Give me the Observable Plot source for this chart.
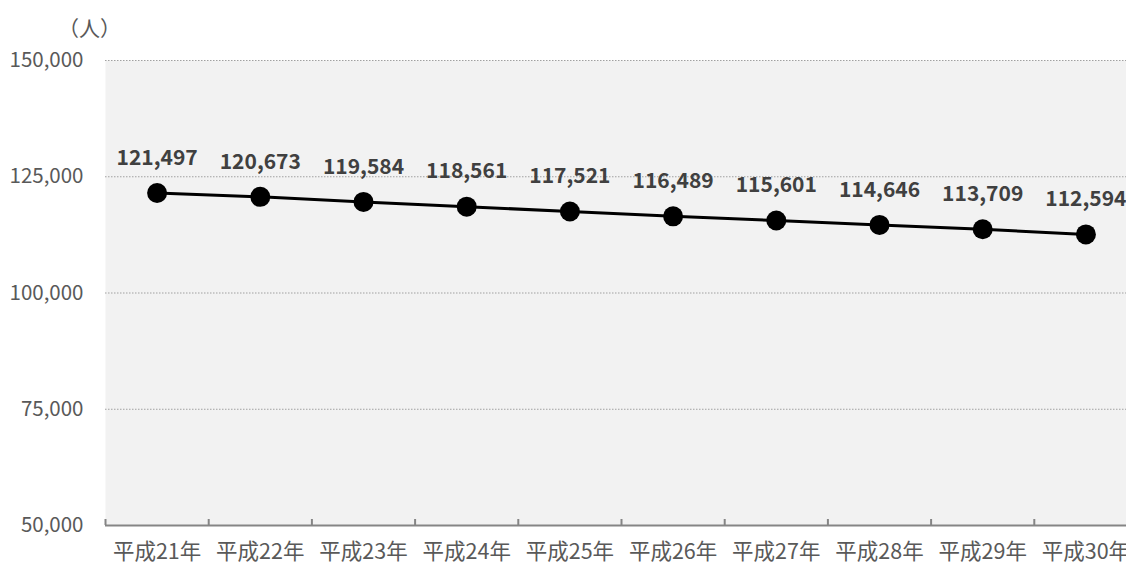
<!DOCTYPE html>
<html>
<head>
<meta charset="utf-8">
<script src="https://cdn.jsdelivr.net/npm/d3@7"></script>
<script src="https://cdn.jsdelivr.net/npm/@observablehq/plot@0.6"></script>
<style>
  html, body { margin: 0; padding: 0; background: #fff; overflow: hidden; width: 1126px; height: 564px; }
  #wrap { position: relative; width: 1126px; height: 564px; overflow: hidden; font-family: "Noto Sans CJK JP", "Noto Sans", sans-serif; }
  #unit { position: absolute; left: 58px; top: 12px; font-size: 21px; color: #595959; }
  #chart { position: absolute; left: 0; top: 0; width: 1140px; }
  #chart svg { max-width: none !important; }
</style>
</head>
<body>
<div id="wrap">
  <div id="chart"></div>
  <div id="unit">（人）</div>
</div>
<script>
const years = ["平成21年","平成22年","平成23年","平成24年","平成25年","平成26年","平成27年","平成28年","平成29年","平成30年"];
const values = [121497, 120673, 119584, 118561, 117521, 116489, 115601, 114646, 113709, 112594];
const yTicks = [50000, 75000, 100000, 125000, 150000];
const gridTicks = [75000, 100000, 125000, 150000];

const data = years.map((y, i) => ({year: y, idx: i + 0.5, value: values[i]}));
const bounds = d3.range(years.length + 1);
const labelPos = years.map((_, i) => i + 0.5);

const fontFamily = '"Noto Sans CJK JP", "Noto Sans", sans-serif';

const chart = Plot.plot({
  width: 1140,
  height: 564,
  marginLeft: 105,
  marginRight: 3,
  marginTop: 60,
  marginBottom: 39,
  style: {fontFamily, background: "transparent", overflow: "visible", maxWidth: "none"},
  x: {type: "linear", domain: [0, years.length]},
  y: {domain: [50000, 150000]},
  marks: [
    Plot.frame({fill: "#f2f2f2", stroke: null}),
    Plot.ruleY(gridTicks, {stroke: "#a0a0a0", strokeWidth: 1, strokeDasharray: "1.5,1.5"}),
    Plot.ruleY([50000], {stroke: "#858585", strokeWidth: 2}),
    Plot.ruleX(bounds, {x: d => d, y1: 50000, y2: 50000, insetTop: -6, stroke: "#858585", strokeWidth: 2}),
    Plot.axisY({ticks: yTicks, tickSize: 0, tickPadding: 22, tickFormat: d3.format(","), fontSize: 20.5, fill: "#595959", label: null}),
    Plot.axisX({ticks: labelPos, tickSize: 0, tickPadding: 18, tickFormat: d => years[Math.floor(d)], fontSize: 21.5, fill: "#595959", label: null}),
    Plot.line(data, {x: "idx", y: "value", stroke: "#000", strokeWidth: 3}),
    Plot.dot(data, {x: "idx", y: "value", r: 10, fill: "#000", stroke: null}),
    Plot.text(data, {x: "idx", y: "value", text: d => d3.format(",")(d.value), dy: -35, fontSize: 21, fontWeight: "bold", fill: "#404040"})
  ]
});
document.getElementById("chart").appendChild(chart);
</script>
</body>
</html>
